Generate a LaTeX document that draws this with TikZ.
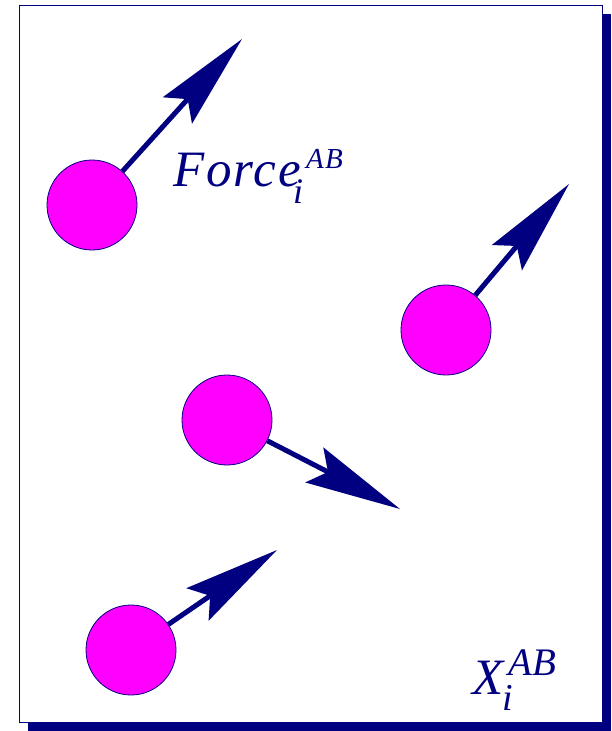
\documentclass[tikz,border=0pt]{standalone}
\usepackage{fontspec}
\setmainfont{Liberation Serif}
\usepackage{tikz}
\usetikzlibrary{arrows.meta}
\definecolor{navy}{RGB}{0,0,128}
\definecolor{ballcol}{RGB}{255,0,255}
\newcommand{\fsz}[1]{\fontsize{#1}{#1}\selectfont}
\tikzset{
  ball/.style ={circle,draw=navy,fill=ballcol,minimum size=90pt,inner sep=0pt,line width=0.8pt},
  push/.style ={navy,line width=5pt,-{Stealth[length=96pt,width=39pt,inset=15pt]}},
  lab/.style  ={text=navy,anchor=base west,inner sep=0pt,font=\itshape},
  frame/.style={draw=navy,fill=white,line width=1pt},
}
\begin{document}
\begin{tikzpicture}[x=1pt,y=-1pt]
  \useasboundingbox (0,0) rectangle (611,731);
  \fill[navy] (28,14) rectangle (611,731);
  \draw[frame] (19,5) rectangle (602,722);
  \node[ball] (p1) at (92,205){};
  \node[ball] (p2) at (446,330){};
  \node[ball] (p3) at (227,420){};
  \node[ball] (p4) at (131,650){};
  \coordinate (t1) at (242,39);
  \coordinate (t2) at (569,184);
  \coordinate (t3) at (400,509);
  \coordinate (t4) at (277,550);
  \foreach \i in {1,...,4}
    \draw[push] (p\i) -- (t\i);
  % labels
  \node[lab] (force) at (173,186)
    {{\fsz{51}\addfontfeature{LetterSpace=4}Force}%
     \rlap{\kern-8pt\raisebox{-17pt}{\fsz{36}i}}\kern5pt%
     \raisebox{18pt}{\fsz{29}\addfontfeature{LetterSpace=4}AB}};
  \node[lab] (xpos) at (472,694)
    {{\fsz{51}X}%
     \rlap{\kern-1pt\raisebox{-16.5pt}{\fsz{38}i}}\kern5pt%
     \raisebox{19pt}{\fsz{39}AB}};
\end{tikzpicture}
\end{document}
